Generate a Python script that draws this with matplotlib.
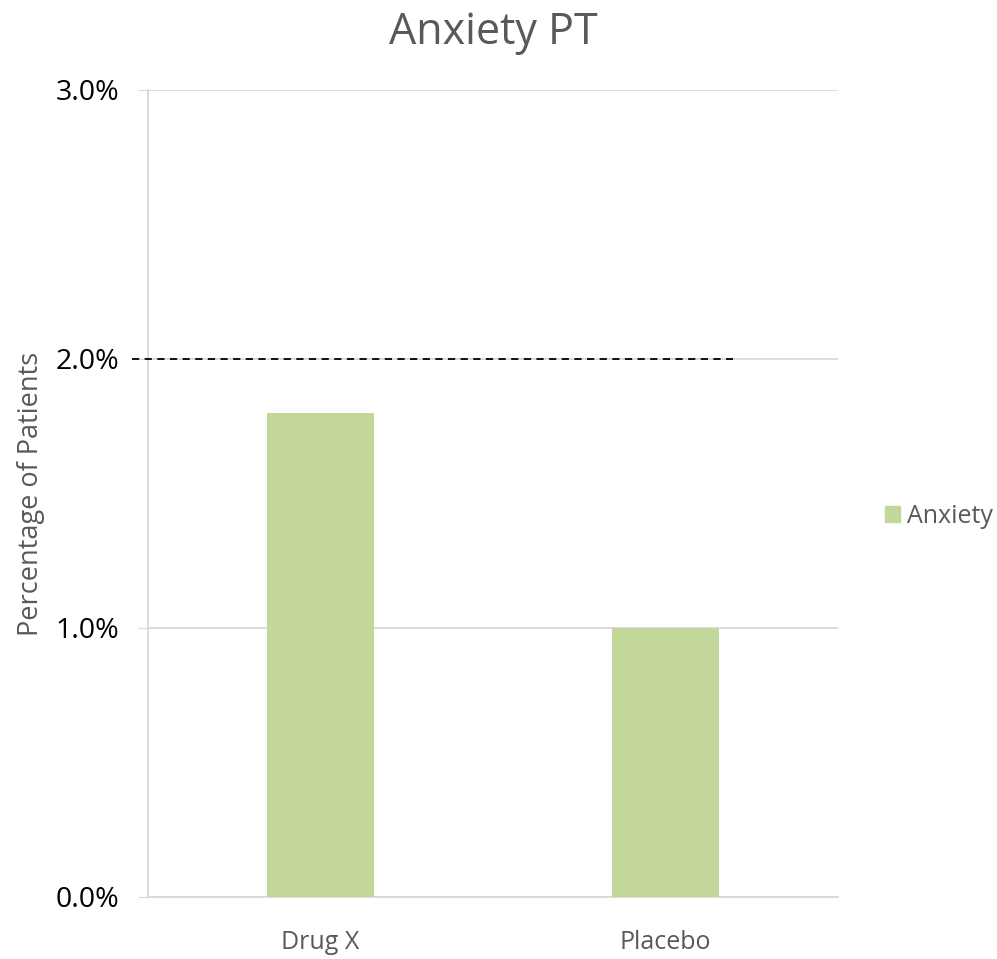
import matplotlib.pyplot as plt
from matplotlib.ticker import FuncFormatter
from matplotlib.patches import Patch

plt.rcParams['font.family'] = ['Open Sans', 'DejaVu Sans']

groups = ["Drug X", "Placebo"]
anxiety = [1.8, 1.0]
threshold = 2.0
yticks = [0.0, 1.0, 2.0, 3.0]

bar_color = "#c4d79b"
grid_color = "#d9d9d9"
text_gray = "#595959"

fig = plt.figure(figsize=(9.97, 9.59), dpi=100)
ax = fig.add_axes([0.1484, 0.0647, 0.6921, 0.8415])

x = range(len(groups))
ax.bar(x, anxiety, width=0.31, color=bar_color, zorder=3)

ax.set_xlim(-0.5, 1.5)
ax.set_ylim(0, 3.0)
ax.set_yticks(yticks)
ax.yaxis.set_major_formatter(FuncFormatter(lambda v, p: "%.1f%%" % v))
ax.set_xticks(list(x))
ax.set_xticklabels(groups, color=text_gray, fontsize=18)
ax.tick_params(axis="x", length=0, pad=24)
ax.tick_params(axis="y", length=7.5, color=grid_color, labelsize=20.5, labelcolor="black", pad=13)
ax.grid(axis="y", color=grid_color, linewidth=1.3, zorder=0)

for side in ["top", "right"]:
    ax.spines[side].set_visible(False)
ax.spines["left"].set_color(grid_color)
ax.spines["left"].set_linewidth(1.3)
ax.spines["bottom"].set_color(grid_color)
ax.spines["bottom"].set_linewidth(1.3)

# reference line at 2%
ax.plot([-0.545, 1.195], [threshold, threshold], color="black", linestyle=(0, (4, 3)),
        linewidth=1.3, clip_on=False, zorder=4)

ax.set_ylabel("Percentage of Patients", color=text_gray, fontsize=19.5, labelpad=8)
ax.set_title("Anxiety PT", color=text_gray, fontsize=31, pad=33)

ax.legend(handles=[Patch(color=bar_color, label="Anxiety")], loc="center left",
          bbox_to_anchor=(1.035, 0.472), frameon=False, fontsize=18, handlelength=0.6,
          handleheight=0.6, handletextpad=0.3, labelcolor=text_gray)

plt.savefig("out.png", dpi=100)
